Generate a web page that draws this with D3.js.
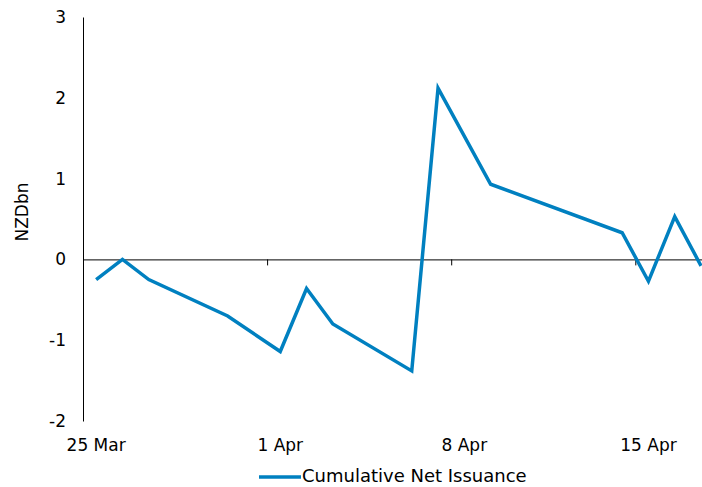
<!DOCTYPE html>
<html>
<head>
<meta charset="utf-8">
<script src="https://cdn.jsdelivr.net/npm/d3@7"></script>
<style>
  html, body { margin: 0; padding: 0; background: #fff; }
  svg { display: block; }
  text { font-family: "DejaVu Sans", Verdana, sans-serif; fill: #000; }
</style>
</head>
<body>
<svg id="chart" width="702" height="487"></svg>
<script>
// Cumulative net issuance, NZD billions, by trading day
const dates = ["2020-03-25", "2020-03-26", "2020-03-27", "2020-03-30", "2020-04-01",
               "2020-04-02", "2020-04-03", "2020-04-06", "2020-04-07", "2020-04-09",
               "2020-04-14", "2020-04-15", "2020-04-16", "2020-04-17"];
const values = [-0.25, 0.0, -0.25, -0.70, -1.14,
                -0.36, -0.80, -1.38, 2.12, 0.93,
                0.33, -0.27, 0.53, -0.08];
const yTicks = [-2, -1, 0, 1, 2, 3];
const xTickDates = ["2020-03-25", "2020-04-01", "2020-04-08", "2020-04-15"];
const xTickLabels = ["25 Mar", "1 Apr", "8 Apr", "15 Apr"];
const seriesName = "Cumulative Net Issuance";
const yTitle = "NZDbn";

const parse = d3.utcParse("%Y-%m-%d");
const svg = d3.select("#chart");

const plotLeft = 83, plotTop = 17, plotBottom = 421;
const dayStart = parse("2020-03-25");
const dayEnd = d3.utcDay.offset(dayStart, 24);

const x = d3.scaleUtc().domain([dayStart, dayEnd]).range([plotLeft, plotLeft + 24 * 26.3]);
const y = d3.scaleLinear().domain([-2, 3]).range([plotBottom, plotTop]);

// points sit in the middle of each day slot
const mid = d => new Date(parse(d).getTime() + 12 * 3600 * 1000);
const data = dates.map((d, i) => ({ t: mid(d), v: values[i] }));

// y axis: line and labels only
const yAxis = d3.axisLeft(y).tickValues(yTicks).tickSize(0).tickPadding(17)
  .tickFormat(d => String(d));
const gy = svg.append("g").attr("transform", `translate(${plotLeft},0)`).call(yAxis);
gy.select(".domain").attr("stroke", "#000").attr("stroke-width", 1);
gy.selectAll("text").attr("font-size", 17).attr("fill", "#000")
  .attr("font-family", "DejaVu Sans, Verdana, sans-serif");

// horizontal axis drawn along zero, with small day ticks
const xAxis = d3.axisBottom(x).tickValues(xTickDates.map(parse)).tickSize(6).tickFormat("");
const gx = svg.append("g").attr("transform", `translate(0,${y(0)})`).call(xAxis);
gx.select(".domain").attr("stroke", "#000").attr("stroke-width", 1);
gx.selectAll(".tick line").attr("stroke", "#000");

// tick labels centred on their day slot, below the plot
svg.append("g").selectAll("text").data(xTickDates).join("text")
  .attr("x", d => x(mid(d)))
  .attr("y", 451)
  .attr("text-anchor", "middle")
  .attr("font-size", 17)
  .text((d, i) => xTickLabels[i]);

// axis title
svg.append("text")
  .attr("transform", `translate(28,212) rotate(-90)`)
  .attr("text-anchor", "middle")
  .attr("font-size", 17)
  .text(yTitle);

// series line
const line = d3.line().x(d => x(d.t)).y(d => y(d.v));
svg.append("path")
  .datum(data)
  .attr("d", line)
  .attr("fill", "none")
  .attr("stroke", "#0080C0")
  .attr("stroke-width", 3.5)
  .attr("stroke-linejoin", "miter");

// legend
const lg = svg.append("g");
lg.append("line").attr("x1", 259).attr("x2", 301).attr("y1", 477).attr("y2", 477)
  .attr("stroke", "#0080C0").attr("stroke-width", 3.5);
lg.append("text").attr("x", 302).attr("y", 482).attr("font-size", 18).text(seriesName);
</script>
</body>
</html>
